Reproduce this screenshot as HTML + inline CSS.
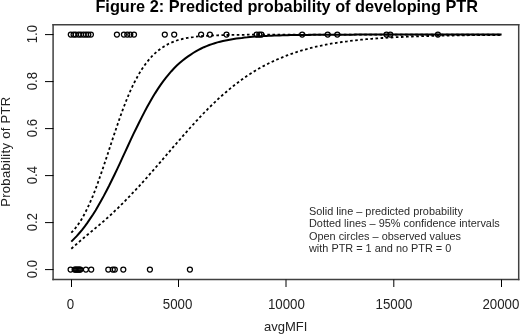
<!DOCTYPE html>
<html><head><meta charset="utf-8"><style>
html,body{margin:0;padding:0;background:#fff;}
svg{display:block;}
text{font-family:"Liberation Sans",sans-serif;}
</style></head><body>
<svg width="520" height="334" viewBox="0 0 520 334">
<defs><filter id="b" x="0" y="0" width="1" height="1"><feGaussianBlur stdDeviation="0.3"/></filter></defs>
<rect width="520" height="334" fill="#fff"/>
<g filter="url(#b)">
<text x="286.75" y="11.8" text-anchor="middle" font-weight="bold" font-size="16.3">Figure 2: Predicted probability of developing PTR</text>
<g stroke="#404040" stroke-width="1.5" fill="none">
<line x1="53.1" y1="24" x2="53.1" y2="280.3"/>
<line x1="52.4" y1="24.7" x2="519.4" y2="24.7"/>
<line x1="518.7" y1="24" x2="518.7" y2="280.3"/>
<line x1="52.4" y1="279.6" x2="519.4" y2="279.6"/>
</g>
<g stroke="#000" stroke-width="1"><line x1="71.5" y1="279.5" x2="71.5" y2="287"/><line x1="178.5" y1="279.5" x2="178.5" y2="287"/><line x1="286.0" y1="279.5" x2="286.0" y2="287"/><line x1="393.8" y1="279.5" x2="393.8" y2="287"/><line x1="501.5" y1="279.5" x2="501.5" y2="287"/><line x1="45" y1="269.60" x2="53.5" y2="269.60"/><line x1="45" y1="222.60" x2="53.5" y2="222.60"/><line x1="45" y1="175.60" x2="53.5" y2="175.60"/><line x1="45" y1="128.60" x2="53.5" y2="128.60"/><line x1="45" y1="81.60" x2="53.5" y2="81.60"/><line x1="45" y1="34.60" x2="53.5" y2="34.60"/></g>
<g font-size="14.5" fill="#222"><text transform="translate(70.4,308.8) scale(0.917,1)" text-anchor="middle">0</text><text transform="translate(177.6,308.8) scale(0.917,1)" text-anchor="middle">5000</text><text transform="translate(286.4,308.8) scale(0.917,1)" text-anchor="middle">10000</text><text transform="translate(394.0,308.8) scale(0.917,1)" text-anchor="middle">15000</text><text transform="translate(500.9,308.8) scale(0.917,1)" text-anchor="middle">20000</text><text transform="translate(36.6,269.10) rotate(-90) scale(0.898,1)" text-anchor="middle">0.0</text><text transform="translate(36.6,222.10) rotate(-90) scale(0.898,1)" text-anchor="middle">0.2</text><text transform="translate(36.6,175.10) rotate(-90) scale(0.898,1)" text-anchor="middle">0.4</text><text transform="translate(36.6,128.10) rotate(-90) scale(0.898,1)" text-anchor="middle">0.6</text><text transform="translate(36.6,81.10) rotate(-90) scale(0.898,1)" text-anchor="middle">0.8</text><text transform="translate(36.6,34.10) rotate(-90) scale(0.898,1)" text-anchor="middle">1.0</text></g>
<text x="285.75" y="330.8" text-anchor="middle" font-size="13" fill="#222">avgMFI</text>
<text transform="translate(10.4,151.7) rotate(-90)" text-anchor="middle" font-size="13" letter-spacing="0.3" fill="#222">Probability of PTR</text>
<g fill="none" stroke="#000" stroke-width="1.25"><circle cx="70.8" cy="34.6" r="2.5"/><circle cx="73.6" cy="34.6" r="2.5"/><circle cx="75.7" cy="34.6" r="2.5"/><circle cx="78.6" cy="34.6" r="2.5"/><circle cx="80.9" cy="34.6" r="2.5"/><circle cx="83.6" cy="34.6" r="2.5"/><circle cx="86.0" cy="34.6" r="2.5"/><circle cx="88.3" cy="34.6" r="2.5"/><circle cx="90.9" cy="34.6" r="2.5"/><circle cx="116.9" cy="34.6" r="2.5"/><circle cx="123.9" cy="34.6" r="2.5"/><circle cx="127.3" cy="34.6" r="2.5"/><circle cx="130.3" cy="34.6" r="2.5"/><circle cx="134.0" cy="34.6" r="2.5"/><circle cx="164.8" cy="34.6" r="2.5"/><circle cx="174.2" cy="34.6" r="2.5"/><circle cx="201.1" cy="34.6" r="2.5"/><circle cx="209.9" cy="34.6" r="2.5"/><circle cx="226.5" cy="34.6" r="2.5"/><circle cx="256.6" cy="34.6" r="2.5"/><circle cx="259.3" cy="34.6" r="2.5"/><circle cx="261.4" cy="34.6" r="2.5"/><circle cx="302.2" cy="34.6" r="2.5"/><circle cx="327.7" cy="34.6" r="2.5"/><circle cx="337.3" cy="34.6" r="2.5"/><circle cx="386.5" cy="34.6" r="2.5"/><circle cx="390.3" cy="34.6" r="2.5"/><circle cx="437.9" cy="34.6" r="2.5"/><circle cx="70.6" cy="269.6" r="2.5"/><circle cx="74.6" cy="269.6" r="2.5"/><circle cx="75.5" cy="269.6" r="2.5"/><circle cx="76.5" cy="269.6" r="2.5"/><circle cx="77.5" cy="269.6" r="2.5"/><circle cx="78.5" cy="269.6" r="2.5"/><circle cx="79.5" cy="269.6" r="2.5"/><circle cx="80.4" cy="269.6" r="2.5"/><circle cx="85.9" cy="269.6" r="2.5"/><circle cx="91.2" cy="269.6" r="2.5"/><circle cx="108.3" cy="269.6" r="2.5"/><circle cx="112.8" cy="269.6" r="2.5"/><circle cx="114.8" cy="269.6" r="2.5"/><circle cx="123.3" cy="269.6" r="2.5"/><circle cx="149.9" cy="269.6" r="2.5"/><circle cx="189.9" cy="269.6" r="2.5"/></g>
<path d="M71.3,241.6 L74.0,238.9 L76.7,236.1 L79.4,233.0 L82.1,229.8 L84.8,226.3 L87.5,222.6 L90.2,218.6 L93.0,214.5 L95.7,210.2 L98.4,205.6 L101.1,200.8 L103.8,195.9 L106.5,190.7 L109.2,185.5 L111.9,180.0 L114.6,174.5 L117.3,168.9 L120.0,163.1 L122.7,157.2 L125.4,151.4 L128.1,145.5 L130.8,139.7 L133.5,133.9 L136.3,128.3 L139.0,122.8 L141.7,117.4 L144.4,112.1 L147.1,107.1 L149.8,102.2 L152.5,97.6 L155.2,93.1 L157.9,88.9 L160.6,84.9 L163.3,81.1 L166.0,77.6 L168.7,74.3 L171.4,71.2 L174.1,68.3 L176.8,65.6 L179.6,63.1 L182.3,60.7 L185.0,58.6 L187.7,56.6 L190.4,54.8 L193.1,53.0 L195.8,51.4 L198.5,49.9 L201.2,48.5 L203.9,47.2 L206.6,46.1 L209.3,45.0 L212.0,44.1 L214.7,43.2 L217.4,42.4 L220.1,41.7 L222.9,41.0 L225.6,40.4 L228.3,39.9 L231.0,39.4 L233.7,39.0 L236.4,38.6 L239.1,38.2 L241.8,37.9 L244.5,37.5 L247.2,37.3 L249.9,37.0 L252.6,36.8 L255.3,36.6 L258.0,36.4 L260.7,36.2 L263.4,36.1 L266.2,35.9 L268.9,35.8 L271.6,35.7 L274.3,35.6 L277.0,35.5 L279.7,35.4 L282.4,35.3 L285.1,35.2 L287.8,35.2 L290.5,35.1 L293.2,35.1 L295.9,35.0 L298.6,35.0 L301.3,34.9 L304.0,34.9 L306.7,34.9 L309.5,34.9 L312.2,34.8 L314.9,34.8 L317.6,34.8 L320.3,34.8 L323.0,34.8 L325.7,34.7 L328.4,34.7 L331.1,34.7 L333.8,34.7 L336.5,34.7 L339.2,34.7 L341.9,34.7 L344.6,34.7 L347.3,34.7 L350.0,34.7 L352.8,34.7 L355.5,34.6 L358.2,34.6 L360.9,34.6 L363.6,34.6 L366.3,34.6 L369.0,34.6 L371.7,34.6 L374.4,34.6 L377.1,34.6 L379.8,34.6 L382.5,34.6 L385.2,34.6 L387.9,34.6 L390.6,34.6 L393.3,34.6 L396.1,34.6 L398.8,34.6 L401.5,34.6 L404.2,34.6 L406.9,34.6 L409.6,34.6 L412.3,34.6 L415.0,34.6 L417.7,34.6 L420.4,34.6 L423.1,34.6 L425.8,34.6 L428.5,34.6 L431.2,34.6 L433.9,34.6 L436.6,34.6 L439.4,34.6 L442.1,34.6 L444.8,34.6 L447.5,34.6 L450.2,34.6 L452.9,34.6 L455.6,34.6 L458.3,34.6 L461.0,34.6 L463.7,34.6 L466.4,34.6 L469.1,34.6 L471.8,34.6 L474.5,34.6 L477.2,34.6 L479.9,34.6 L482.7,34.6 L485.4,34.6 L488.1,34.6 L490.8,34.6 L493.5,34.6 L496.2,34.6 L498.9,34.6 L501.6,34.6" fill="none" stroke="#000" stroke-width="2.0"/>
<path d="M71.3,232.7 L74.0,229.9 L76.7,226.5 L79.4,222.7 L82.1,218.4 L84.8,213.5 L87.5,208.1 L90.2,202.1 L93.0,195.6 L95.7,188.7 L98.4,181.3 L101.1,173.6 L103.8,165.7 L106.5,157.6 L109.2,149.4 L111.9,141.2 L114.6,133.1 L117.3,125.2 L120.0,117.4 L122.7,109.9 L125.4,102.8 L128.1,96.1 L130.8,89.9 L133.5,84.1 L136.3,78.8 L139.0,73.9 L141.7,69.5 L144.4,65.5 L147.1,61.9 L149.8,58.7 L152.5,55.7 L155.2,53.1 L157.9,50.8 L160.6,48.7 L163.3,46.9 L166.0,45.3 L168.7,43.8 L171.4,42.6 L174.1,41.5 L176.8,40.5 L179.6,39.6 L182.3,39.0 L185.0,38.4 L187.7,37.9 L190.4,37.4 L193.1,37.1 L195.8,36.7 L198.5,36.4 L201.2,36.2 L203.9,36.0 L206.6,35.8 L209.3,35.6 L212.0,35.5 L214.7,35.4 L217.4,35.3 L220.1,35.2 L222.9,35.1 L225.6,35.0 L228.3,35.0 L231.0,34.9 L233.7,34.9 L236.4,34.8 L239.1,34.8 L241.8,34.8 L244.5,34.8 L247.2,34.7 L249.9,34.7 L252.6,34.7 L255.3,34.7 L258.0,34.7 L260.7,34.7 L263.4,34.7 L266.2,34.6 L268.9,34.6 L271.6,34.6 L274.3,34.6 L277.0,34.6 L279.7,34.6 L282.4,34.6 L285.1,34.6 L287.8,34.6 L290.5,34.6 L293.2,34.6 L295.9,34.6 L298.6,34.6 L301.3,34.6 L304.0,34.6 L306.7,34.6 L309.5,34.6 L312.2,34.6 L314.9,34.6 L317.6,34.6 L320.3,34.6 L323.0,34.6 L325.7,34.6 L328.4,34.6 L331.1,34.6 L333.8,34.6 L336.5,34.6 L339.2,34.6 L341.9,34.6 L344.6,34.6 L347.3,34.6 L350.0,34.6 L352.8,34.6 L355.5,34.6 L358.2,34.6 L360.9,34.6 L363.6,34.6 L366.3,34.6 L369.0,34.6 L371.7,34.6 L374.4,34.6 L377.1,34.6 L379.8,34.6 L382.5,34.6 L385.2,34.6 L387.9,34.6 L390.6,34.6 L393.3,34.6 L396.1,34.6 L398.8,34.6 L401.5,34.6 L404.2,34.6 L406.9,34.6 L409.6,34.6 L412.3,34.6 L415.0,34.6 L417.7,34.6 L420.4,34.6 L423.1,34.6 L425.8,34.6 L428.5,34.6 L431.2,34.6 L433.9,34.6 L436.6,34.6 L439.4,34.6 L442.1,34.6 L444.8,34.6 L447.5,34.6 L450.2,34.6 L452.9,34.6 L455.6,34.6 L458.3,34.6 L461.0,34.6 L463.7,34.6 L466.4,34.6 L469.1,34.6 L471.8,34.6 L474.5,34.6 L477.2,34.6 L479.9,34.6 L482.7,34.6 L485.4,34.6 L488.1,34.6 L490.8,34.6 L493.5,34.6 L496.2,34.6 L498.9,34.6 L501.6,34.6" fill="none" stroke="#000" stroke-width="1.8" stroke-dasharray="2.6 2.5"/>
<path d="M71.3,248.7 L74.0,246.4 L76.7,244.0 L79.4,241.6 L82.1,239.3 L84.8,237.0 L87.5,234.7 L90.2,232.5 L93.0,230.2 L95.7,227.9 L98.4,225.7 L101.1,223.4 L103.8,221.1 L106.5,218.7 L109.2,216.3 L111.9,213.8 L114.6,211.2 L117.3,208.7 L120.0,206.0 L122.7,203.3 L125.4,200.6 L128.1,197.8 L130.8,195.0 L133.5,192.1 L136.3,189.2 L139.0,186.3 L141.7,183.3 L144.4,180.3 L147.1,177.3 L149.8,174.2 L152.5,171.2 L155.2,168.1 L157.9,164.9 L160.6,161.8 L163.3,158.7 L166.0,155.5 L168.7,152.4 L171.4,149.2 L174.1,146.1 L176.8,143.0 L179.6,139.8 L182.3,136.7 L185.0,133.6 L187.7,130.6 L190.4,127.5 L193.1,124.6 L195.8,121.6 L198.5,118.7 L201.2,115.8 L203.9,113.0 L206.6,110.3 L209.3,107.5 L212.0,104.9 L214.7,102.3 L217.4,99.7 L220.1,97.2 L222.9,94.8 L225.6,92.5 L228.3,90.2 L231.0,87.9 L233.7,85.7 L236.4,83.6 L239.1,81.6 L241.8,79.6 L244.5,77.7 L247.2,75.8 L249.9,74.1 L252.6,72.3 L255.3,70.7 L258.0,69.1 L260.7,67.5 L263.4,66.1 L266.2,64.7 L268.9,63.3 L271.6,62.0 L274.3,60.7 L277.0,59.5 L279.7,58.4 L282.4,57.3 L285.1,56.2 L287.8,55.2 L290.5,54.2 L293.2,53.3 L295.9,52.3 L298.6,51.5 L301.3,50.6 L304.0,49.8 L306.7,49.1 L309.5,48.3 L312.2,47.6 L314.9,47.0 L317.6,46.4 L320.3,45.8 L323.0,45.2 L325.7,44.7 L328.4,44.2 L331.1,43.7 L333.8,43.2 L336.5,42.8 L339.2,42.4 L341.9,42.0 L344.6,41.6 L347.3,41.3 L350.0,40.9 L352.8,40.6 L355.5,40.3 L358.2,40.0 L360.9,39.7 L363.6,39.5 L366.3,39.2 L369.0,39.0 L371.7,38.8 L374.4,38.6 L377.1,38.4 L379.8,38.2 L382.5,38.0 L385.2,37.8 L387.9,37.7 L390.6,37.5 L393.3,37.4 L396.1,37.2 L398.8,37.1 L401.5,37.0 L404.2,36.8 L406.9,36.7 L409.6,36.6 L412.3,36.5 L415.0,36.4 L417.7,36.3 L420.4,36.2 L423.1,36.1 L425.8,36.1 L428.5,36.0 L431.2,35.9 L433.9,35.9 L436.6,35.8 L439.4,35.7 L442.1,35.7 L444.8,35.6 L447.5,35.6 L450.2,35.5 L452.9,35.5 L455.6,35.4 L458.3,35.4 L461.0,35.3 L463.7,35.3 L466.4,35.3 L469.1,35.2 L471.8,35.2 L474.5,35.2 L477.2,35.1 L479.9,35.1 L482.7,35.1 L485.4,35.1 L488.1,35.0 L490.8,35.0 L493.5,35.0 L496.2,35.0 L498.9,35.0 L501.6,34.9" fill="none" stroke="#000" stroke-width="1.8" stroke-dasharray="2.6 2.5"/>
<g font-size="11.3" fill="#2a2a2a" transform="translate(309,0) scale(0.965,1)">
<text x="0" y="214.7">Solid line – predicted probability</text>
<text x="0" y="227.2">Dotted lines – 95% confidence intervals</text>
<text x="0" y="239.7">Open circles – observed values</text>
<text x="0" y="252.2">with PTR = 1 and no PTR = 0</text>
</g>
</g>
</svg>
</body></html>
